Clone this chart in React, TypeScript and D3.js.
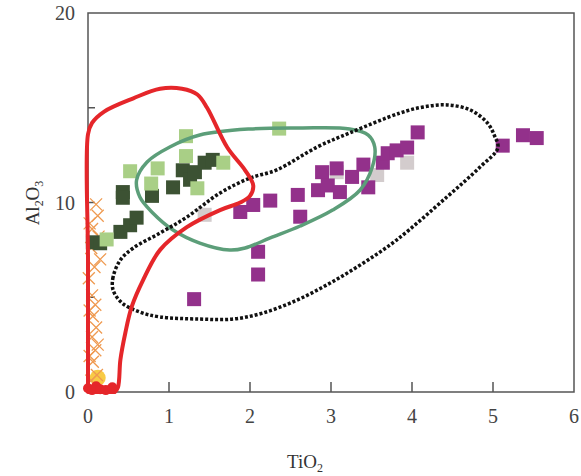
import React from "react";
import * as d3 from "d3";

const W = 581, H = 476;
const xTicks = [0, 1, 2, 3, 4, 5, 6];
const yTickLabels = [0, 10, 20];
const yTickMarks = [5, 10, 15];

const darkGreen: [number, number][] = [
  [0.06, 7.9], [0.15, 7.85], [0.4, 8.45], [0.52, 8.8], [0.6, 9.2], [0.43, 10.55], [0.43, 10.25],
  [0.79, 10.35], [1.05, 10.8], [1.17, 11.7], [1.26, 11.2], [1.32, 11.6], [1.44, 12.1], [1.54, 12.25],
];
const lightGreen: [number, number][] = [
  [0.23, 8.05], [0.52, 11.65], [0.86, 11.8], [0.78, 11.0], [1.21, 13.5], [1.21, 12.45],
  [1.35, 10.75], [1.67, 12.1], [2.36, 13.9],
];
const purple: [number, number][] = [
  [1.31, 4.9], [1.88, 9.5], [2.04, 9.87], [2.25, 10.1], [2.1, 7.4], [2.1, 6.2], [2.59, 10.4],
  [2.62, 9.25], [2.84, 10.65], [2.89, 11.6], [2.96, 10.9], [3.07, 11.8], [3.11, 10.55], [3.26, 11.35],
  [3.4, 12.0], [3.46, 10.8], [3.64, 12.1], [3.7, 12.6], [3.81, 12.75], [3.94, 12.9], [4.07, 13.7],
  [5.12, 13.0], [5.37, 13.55], [5.54, 13.4],
];
const gray: [number, number][] = [[1.44, 9.35], [3.07, 11.6], [3.57, 11.45], [3.94, 12.1]];
const orangeX: [number, number][] = [
  [0.1, 9.9], [0.12, 9.3], [0.02, 8.9], [0.05, 8.6], [0.13, 8.2], [0.04, 7.6], [0.15, 7.0],
  [0.08, 6.6], [0.01, 6.0], [0.05, 5.1], [0.09, 4.6], [0.02, 4.3], [0.06, 4.0], [0.1, 3.4],
  [0.05, 2.9], [0.12, 2.5], [0.09, 2.2], [0.02, 1.9], [0.06, 1.6], [0.11, 0.9], [0.04, 0.6],
];
const yellow: [number, number][] = [[0.12, 0.75]];
const redDots: [number, number][] = [
  [0.0, 0.2], [0.05, 0.1], [0.1, 0.3], [0.15, 0.15], [0.22, 0.1], [0.3, 0.25],
];

const redField: [number, number][] = [
  [0, 0], [0, 7], [0, 13.6], [0.05, 14.2], [0.2, 14.8], [0.56, 15.5], [0.89, 16.0], [1.16, 16.0], [1.35, 15.7],
  [1.47, 15.0], [1.72, 12.9], [1.94, 11.7], [2.04, 10.9], [2.0, 10.35], [1.88, 10.0], [1.63, 9.6],
  [1.22, 8.7], [0.89, 7.5], [0.68, 5.9], [0.54, 4.5], [0.46, 3.1], [0.4, 1.7], [0.37, 0.25], [0.33, 0],
];
const greenField: [number, number][] = [
  [0.6, 11.19], [0.73, 12.14], [1.01, 12.93], [1.38, 13.56], [2.0, 13.88], [2.62, 13.93],
  [3.23, 13.88], [3.46, 13.56], [3.54, 12.93], [3.51, 11.87], [3.36, 10.66], [3.02, 9.6],
  [2.62, 8.76], [2.25, 8.13], [1.94, 7.6], [1.75, 7.49], [1.38, 7.86], [1.05, 8.55],
  [0.8, 9.45], [0.64, 10.29],
];
const blackField: [number, number][] = [
  [0.4, 6.97], [0.31, 6.07], [0.31, 5.38], [0.42, 4.7], [0.64, 4.22], [0.89, 3.96], [1.38, 3.85],
  [1.79, 3.85], [2.16, 4.17], [2.58, 4.85], [2.99, 5.75], [3.4, 6.81], [3.81, 8.02], [4.43, 10.29],
  [4.84, 11.87], [5.06, 12.88], [5.02, 13.51], [4.93, 14.2], [4.72, 14.88], [4.43, 15.15],
  [4.14, 15.04], [3.85, 14.72], [3.23, 13.67], [2.83, 12.93], [2.33, 11.72], [2.0, 11.29],
  [1.63, 10.5], [1.22, 9.23], [0.89, 8.39], [0.56, 7.6],
];

export default function App() {
  const x = d3.scaleLinear().domain([0, 6]).range([88, 574]);
  const y = d3.scaleLinear().domain([0, 20]).range([392, 13]);
  const font = "'Liberation Serif', 'Times New Roman', serif";
  const axisColor = "#555";
  const sq = 14;

  const openLine = d3.line<[number, number]>().x(d => x(d[0])).y(d => y(d[1])).curve(d3.curveCatmullRom.alpha(0.5));
  const closedLine = d3.line<[number, number]>().x(d => x(d[0])).y(d => y(d[1])).curve(d3.curveCatmullRomClosed.alpha(0.5));

  const squares = (data: [number, number][], color: string, key: string) =>
    data.map((d, i) => (
      <rect key={key + i} x={x(d[0]) - sq / 2} y={y(d[1]) - sq / 2} width={sq} height={sq} fill={color} />
    ));

  return (
    <svg width={W} height={H} style={{ position: "absolute", left: 0, top: 0, background: "#fff" }}>
      <rect x={0} y={0} width={W} height={H} fill="#fff" />
      <rect x={x(0)} y={y(20)} width={x(6) - x(0)} height={y(0) - y(20)} fill="none" stroke={axisColor} strokeWidth={1.5} />
      {xTicks.slice(1, 6).map(t => (
        <line key={"xt" + t} x1={x(t)} x2={x(t)} y1={y(0)} y2={y(0) - 10} stroke={axisColor} strokeWidth={1.5} />
      ))}
      {yTickMarks.map(t => (
        <line key={"yt" + t} x1={x(0)} x2={x(0) + 7} y1={y(t)} y2={y(t)} stroke={axisColor} strokeWidth={1.5} />
      ))}
      {xTicks.map(t => (
        <text key={"xl" + t} x={x(t)} y={423} fontFamily={font} fontSize={20} fill="#444" textAnchor="middle">{t}</text>
      ))}
      {yTickLabels.map(t => (
        <text key={"yl" + t} x={75} y={y(t) + 7} fontFamily={font} fontSize={20} fill="#444" textAnchor="end">{t}</text>
      ))}
      <text x={305} y={468} fontFamily={font} fontSize={19} fill="#333" textAnchor="middle">
        TiO<tspan fontSize={12} dy={4}>2</tspan>
      </text>
      <text transform="translate(39,203) rotate(-90)" fontFamily={font} fontSize={19} fill="#333" textAnchor="middle">
        Al<tspan fontSize={12} dy={4}>2</tspan><tspan dy={-4}>O</tspan><tspan fontSize={12} dy={4}>3</tspan>
      </text>

      {yellow.map((d, i) => (
        <circle key={"yc" + i} cx={x(d[0])} cy={y(d[1])} r={8} fill="#f7c531" opacity={0.9} />
      ))}
      {orangeX.map((d, i) => (
        <path key={"ox" + i} d={`M${x(d[0]) - 6},${y(d[1]) - 6}L${x(d[0]) + 6},${y(d[1]) + 6}M${x(d[0]) - 6},${y(d[1]) + 6}L${x(d[0]) + 6},${y(d[1]) - 6}`}
          stroke="#ef9a50" strokeWidth={1.3} fill="none" />
      ))}
      {squares(gray, "#d3cccd", "g")}
      {squares(purple, "#93318b", "p")}
      {squares(darkGreen, "#3c5233", "dg")}
      {squares(lightGreen, "#a9cf86", "lg")}

      <path d={closedLine(greenField) || ""} fill="none" stroke="#5c9e79" strokeWidth={3.5} />
      <path d={closedLine(blackField) || ""} fill="none" stroke="#111" strokeWidth={3.5} strokeDasharray="3,2" />
      <path d={(openLine(redField) || "") + "Z"} fill="none" stroke="#e5262a" strokeWidth={4} strokeLinejoin="round" />
      {redDots.map((d, i) => (
        <circle key={"rd" + i} cx={x(d[0])} cy={y(d[1])} r={5} fill="#e5262a" />
      ))}
    </svg>
  );
}
